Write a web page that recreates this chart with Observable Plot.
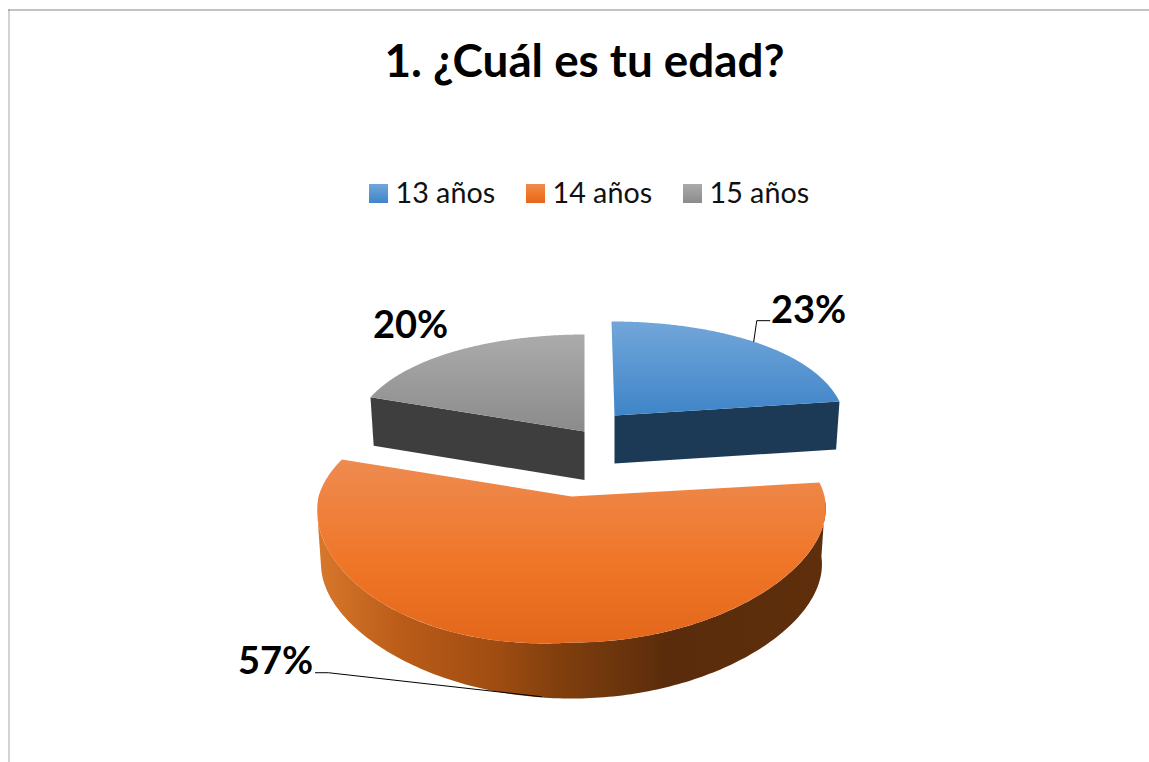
<!DOCTYPE html>
<html>
<head>
<meta charset="utf-8">
<style>html,body{margin:0;padding:0;background:#fff;overflow:hidden}svg{display:block}</style>
<script src="https://cdn.jsdelivr.net/npm/d3@7"></script>
<script src="https://cdn.jsdelivr.net/npm/@observablehq/plot@0.6"></script>
</head>
<body>
<div id="chart"></div>
<script>
// ---- data ----
const chartTitle = "1. ¿Cuál es tu edad?";
const categories = ["13 años", "14 años", "15 años"];
const shares = [23, 57, 20];

// ---- styles ----
const topStops = [
  [[0, "#72a6da"], [1, "#3f85c8"]],
  [[0, "#ee8b50"], [0.55, "#f07628"], [1, "#e3671a"]],
  [[0, "#ababab"], [1, "#8b8b8b"]]
];
const wallStops = [
  [[0, "#1c3a56"], [1, "#1c3a56"]],
  [[0, "#d8782c"], [0.16, "#bb5c19"], [0.36, "#9e4c11"], [0.46, "#84400e"], [0.69, "#5a2c0b"], [1, "#5f2f0c"]],
  [[0, "#3e3e3e"], [1, "#3e3e3e"]]
];
// exploded-slice placement in the 3D view: apex, radii, wall depth, perspective corrections
const view = [
  {cx: 614, cy: 415, rx: 230, ry: 114.4, depth: 48, lean: 3, front: 0, back: 0},
  {cx: 571, cy: 496, rx: 253, ry: 114.4, depth: 56, lean: 0, front: 18, back: 13},
  {cx: 584, cy: 431, rx: 232, ry: 118, depth: 48.5, lean: 0, front: 0, back: 0}
];
const kx = 0.1, ky = 0.2167, shrink = 0.985;

const rad = d => d * Math.PI / 180;
const ends = d3.cumsum(shares);
const total = d3.sum(shares);
const startDeg = i => (i ? ends[i - 1] : 0) / total * 360;
const endDeg = i => ends[i] / total * 360;

function rim(i, deg, low) {
  const v = view[i], X = Math.sin(rad(deg)), Y = -Math.cos(rad(deg));
  const s = low ? shrink : 1;
  const left = Math.max(-X, 0);
  const frontDy = low ? 0 : v.front * left * Math.max(Y, 0);
  const backD = low ? 0 : v.back * left * Math.max(-Y, 0);
  return {
    x: v.cx + s * v.rx * X / (1 - kx * Y) + v.lean * Math.min(Y, 0) + backD,
    y: v.cy + (low ? v.depth : 0) + v.ry * Y / (1 - ky * Y) + frontDy - backD
  };
}
function apex(i, low) { const v = view[i]; return {x: v.cx, y: v.cy + (low ? v.depth : 0)}; }
const sweep = (a, b) => d3.range(0, 181).map(t => a + (b - a) * t / 180);

const topFace = i => [apex(i, false), ...sweep(startDeg(i), endDeg(i)).map(d => rim(i, d, false))];
const cutWall = (i, deg) => [apex(i, false), rim(i, deg, false), rim(i, deg, true), apex(i, true)];
const outerWall = (i, a, b) => [...sweep(a, b).map(d => rim(i, d, false)), ...sweep(b, a).map(d => rim(i, d, true))];

const face = (pts, fill) => Plot.line(pts, {x: "x", y: "y", fill, stroke: "none", curve: "linear"});

function defs() {
  const g = d3.create("svg:defs");
  const add = (id, stops, horizontal) => {
    const lg = g.append("linearGradient").attr("id", id)
      .attr("x1", 0).attr("y1", 0).attr("x2", horizontal ? 1 : 0).attr("y2", horizontal ? 0 : 1);
    stops.forEach(([o, c]) => lg.append("stop").attr("offset", o).attr("stop-color", c));
  };
  categories.forEach((_, i) => {
    add(`top${i}`, topStops[i], false);
    add(`wall${i}`, wallStops[i], true);
  });
  return g.node();
}

const legendX = [369, 526, 683];
const legendRows = categories.map((name, i) => ({name, i, x1: legendX[i], x2: legendX[i] + 19, y1: 184, y2: 203, tx: legendX[i] + 26, ty: 193.5}));

const mid = i => (startDeg(i) + endDeg(i)) / 2;
const p0 = rim(0, mid(0), false), p1 = rim(1, mid(1), true);
const leaders = [
  [p0, {x: p0.x + 3, y: p0.y - 21}, {x: p0.x + 16, y: p0.y - 21}],
  [{x: p1.x - 4, y: p1.y - 1}, {x: p1.x - 217, y: p1.y - 25}, {x: p1.x - 230, y: p1.y - 25}]
];
const labelRows = [
  {t: `${shares[0]}%`, x: 808, y: 310},
  {t: `${shares[1]}%`, x: 275, y: 661},
  {t: `${shares[2]}%`, x: 410, y: 325}
];

const fig = Plot.plot({
  width: 1149, height: 762,
  marginTop: 0, marginRight: 0, marginBottom: 0, marginLeft: 0,
  x: {domain: [0, 1149], range: [0, 1149], axis: null},
  y: {domain: [0, 762], range: [0, 762], axis: null},
  style: {background: "#fff", fontFamily: "Lato"},
  marks: [
    defs,
    Plot.ruleX([8.5], {y1: 9, y2: 762, stroke: "#a6a6a6", strokeWidth: 1}),
    Plot.ruleY([9.5], {x1: 8, x2: 1149, stroke: "#868686", strokeWidth: 1}),
    // grey slice
    face(cutWall(2, endDeg(1)), "url(#wall2)"),
    face(topFace(2), "url(#top2)"),
    // blue slice
    face(cutWall(0, endDeg(0)), "url(#wall0)"),
    face(topFace(0), "url(#top0)"),
    // orange slice
    face(outerWall(1, 92, 262), "url(#wall1)"),
    face(topFace(1), "url(#top1)"),
    // leaders
    ...leaders.map(l => Plot.line(l, {x: "x", y: "y", stroke: "#000", strokeWidth: 1, curve: "linear"})),
    // data labels
    Plot.text(labelRows, {x: "x", y: "y", text: "t", fontSize: 38, fontWeight: 700, fill: "#000", fontFamily: "Lato"}),
    // title
    Plot.text([chartTitle], {x: () => 584, y: () => 62, text: d => d, fontSize: 45.8, fontWeight: 700, fill: "#000", fontFamily: "Lato"}),
    // legend
    ...legendRows.map(r => Plot.rect([r], {x1: "x1", x2: "x2", y1: "y1", y2: "y2", fill: `url(#top${r.i})`})),
    Plot.text(legendRows, {x: "tx", y: "ty", text: "name", textAnchor: "start", fontSize: 28.7, fill: "#111", fontFamily: "Lato"})
  ]
});
document.getElementById("chart").append(fig);
</script>
</body>
</html>
